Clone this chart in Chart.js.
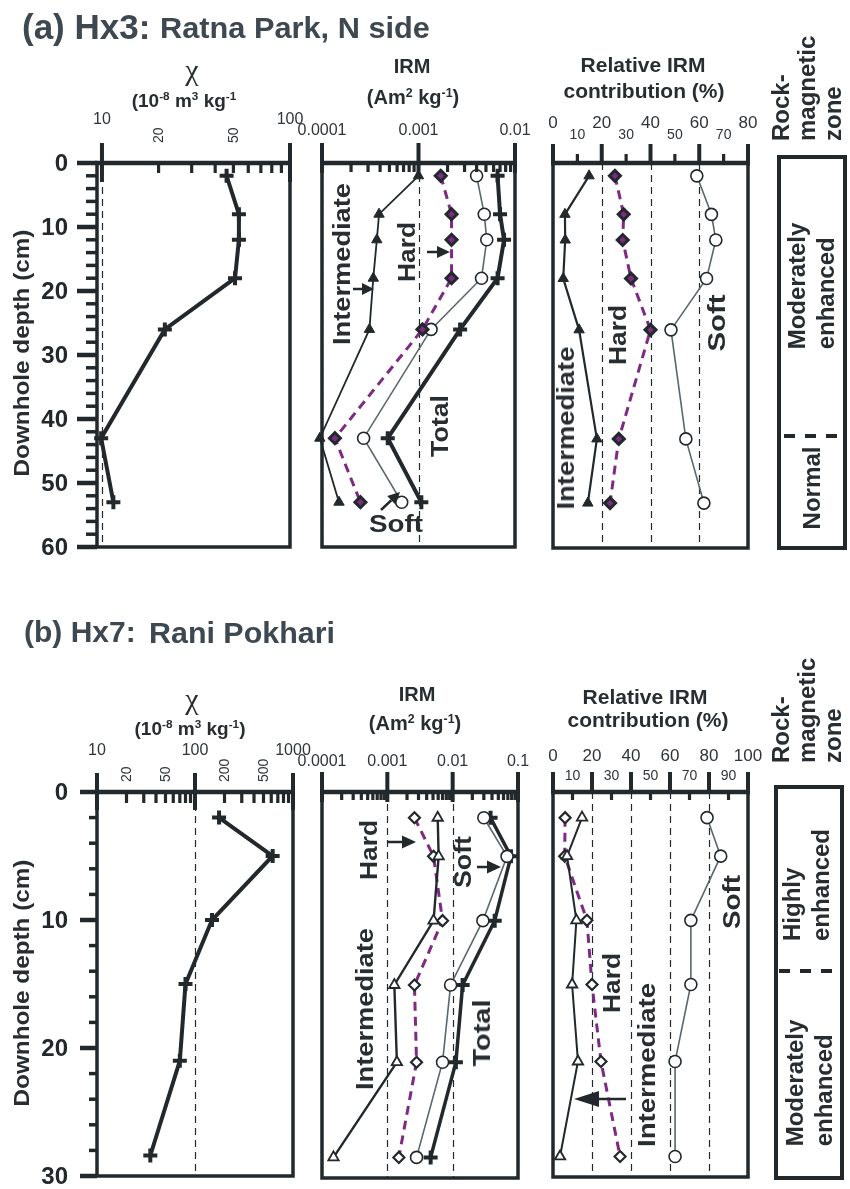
<!DOCTYPE html>
<html>
<head>
<meta charset="utf-8">
<script src="https://cdn.jsdelivr.net/npm/chart.js@4.4.1/dist/chart.umd.min.js"></script>
<style>
  body { margin: 0; background: #fff; }
  #page { position: relative; width: 850px; height: 1189px; overflow: hidden;
          font-family: "Liberation Sans", Arial, sans-serif; color: #272d31; }
  #page canvas { position: absolute; left: 0; top: 0; }
  .t { position: absolute; white-space: pre; font-weight: bold; line-height: 1; }
  .t sup { font-size: 0.62em; vertical-align: 0.55em; line-height: 0; }
  .zone { position: absolute; box-sizing: border-box; border: 4px solid #22282b; width: 70px; height: 395px; }
  svg { position: absolute; left: 0; top: 0; }
</style>
</head>
<body>
<div id="page"></div>
<script>
// ---- (a) Hx3: Ratna Park, N side ----
const depthA = [2, 8, 12, 18, 26, 43, 53];
const chiA = [46, 53.5, 53.5, 51, 21.6, 9.9, 11.5];
const irmTotalA = [0.0066, 0.0070, 0.0077, 0.0066, 0.0027, 0.00048, 0.00107];
const irmSoftA = [0.0040, 0.0048, 0.0051, 0.0045, 0.00135, 0.00027, 0.00067];
const irmHardA = [0.0017, 0.0022, 0.0022, 0.0022, 0.0011, 0.000136, 0.00025];
const irmInterA = [0.0010, 0.00039, 0.00037, 0.00034, 0.00031, 0.000095, 0.00015];
const relSoftA = [59, 65, 66.8, 63, 48.4, 54.5, 61.9];
const relHardA = [25.4, 29, 28.6, 32, 40, 27, 23.4];
const relInterA = [14.8, 4.9, 5, 4.2, 10.7, 18, 14.3];

// ---- (b) Hx7: Rani Pokhari ----
const depthB = [2, 5, 10, 15, 21, 28.4];
const chiB = [176, 620, 149, 80, 70, 35];
const irmTotalB = [0.038, 0.078, 0.044, 0.0142, 0.0112, 0.0046];
const irmSoftB = [0.030, 0.068, 0.029, 0.0093, 0.0070, 0.0028];
const irmHardB = [0.0026, 0.0051, 0.0070, 0.0026, 0.0028, 0.0015];
const irmInterB = [0.0059, 0.0061, 0.0051, 0.00128, 0.0014, 0.00015];
const relSoftB = [79, 86, 70.7, 70.7, 62.6, 62.6];
const relHardB = [6.2, 6, 17.4, 20, 24.6, 34.4];
const relInterB = [14.9, 7.2, 12, 9.8, 12.8, 3.6];

// ---- ticks ----
const depthTicksA = [0, 10, 20, 30, 40, 50, 60];
const depthTicksB = [0, 10, 20, 30];
const chiMajorA = [10, 100];
const chiMinorA = [20, 30, 40, 50, 60, 70, 80, 90];
const chiRotA = [20, 50];
const chiMajorB = [10, 100, 1000];
const chiMinorB = [20, 30, 40, 50, 60, 70, 80, 90, 200, 300, 400, 500, 600, 700, 800, 900];
const chiRotB = [20, 50, 200, 500];
const irmMajorA = [0.0001, 0.001, 0.01];
const irmLabelsA = ['0.0001', '0.001', '0.01'];
const irmMajorB = [0.0001, 0.001, 0.01, 0.1];
const irmLabelsB = ['0.0001', '0.001', '0.01', '0.1'];
const irmMinorMult = [2, 3, 4, 5, 6, 7, 8, 9];
const relMajorA = [0, 20, 40, 60, 80];
const relMinorA = [10, 30, 50, 70];
const relMajorB = [0, 20, 40, 60, 80, 100];
const relMinorB = [10, 30, 50, 70, 90];

const INK = '#22282b';
const PURPLE = '#7d2a82';
const GRAY = '#5b666d';
const TITLE = '#3e4850';
const FONT = '"Liberation Sans", Arial, sans-serif';
const W = 850, H = 1189;

const page = document.getElementById('page');
const measure = document.createElement('canvas').getContext('2d');

function txt(html, x, y, o = {}) {
  const d = document.createElement('div');
  d.className = 't';
  d.innerHTML = html;
  const size = o.size || 20;
  d.style.fontSize = size + 'px';
  if (o.weight) d.style.fontWeight = o.weight;
  if (o.color) d.style.color = o.color;
  if (o.family) d.style.fontFamily = o.family;
  if (o.lh) d.style.lineHeight = o.lh;
  d.style.left = x + 'px';
  d.style.top = y + 'px';
  let sx = '';
  if (o.len) {
    measure.font = (o.weight || 'bold') + ' ' + size + 'px ' + FONT;
    sx = ' scaleX(' + (o.len / measure.measureText(d.textContent).width).toFixed(3) + ')';
  }
  if (o.anchor === 'left') {
    d.style.transformOrigin = '0 50%';
    d.style.transform = 'translate(0,-50%)' + sx;
  } else if (o.anchor === 'rotBottom') {
    d.style.transformOrigin = '0 0';
    d.style.transform = 'rotate(-90deg)';
  } else {
    d.style.transform = 'translate(-50%,-50%)' + (o.rot ? ' rotate(-90deg)' : '') + sx;
  }
  page.appendChild(d);
  return d;
}

function pts(vals, depths) {
  return vals.map((v, i) => ({ x: v, y: depths[i] }));
}

function series(vals, depths, style) {
  return Object.assign({ data: pts(vals, depths), showLine: true, clip: false, tension: 0,
    pointHoverRadius: 0 }, style);
}

const sTotal = { borderColor: INK, borderWidth: 4, pointStyle: 'cross', pointRadius: 7,
  pointBorderWidth: 4, pointBorderColor: INK };
const sSoft = { borderColor: GRAY, borderWidth: 1.6, pointStyle: 'circle', pointRadius: 6,
  pointBorderWidth: 1.6, pointBorderColor: INK, pointBackgroundColor: '#fff' };
const sHardA = { borderColor: PURPLE, borderWidth: 3, borderDash: [9, 6], pointStyle: 'rectRot',
  pointRadius: 5.5, pointBorderWidth: 3, pointBorderColor: INK, pointBackgroundColor: PURPLE };
const sHardB = { borderColor: PURPLE, borderWidth: 3, borderDash: [9, 6], pointStyle: 'rectRot',
  pointRadius: 5.5, pointBorderWidth: 2.2, pointBorderColor: INK, pointBackgroundColor: '#fff' };
const sInterA = { borderColor: INK, borderWidth: 1.8, pointStyle: 'triangle', pointRadius: 6,
  pointBorderWidth: 1, pointBorderColor: INK, pointBackgroundColor: INK };
const sInterB = { borderColor: INK, borderWidth: 2.4, pointStyle: 'triangle', pointRadius: 6,
  pointBorderWidth: 1.8, pointBorderColor: INK, pointBackgroundColor: '#fff' };

function frame(f) {
  return {
    id: 'frame',
    beforeDatasetsDraw(chart) {
      const { ctx, chartArea: a } = chart;
      const x = chart.scales.x;
      ctx.save();
      ctx.strokeStyle = INK;
      ctx.lineWidth = 1.2;
      ctx.setLineDash([7, 5]);
      f.dashed.forEach(v => {
        const px = Math.round(x.getPixelForValue(v)) + 0.5;
        ctx.beginPath(); ctx.moveTo(px, a.top); ctx.lineTo(px, a.bottom); ctx.stroke();
      });
      ctx.restore();
    },
    afterDatasetsDraw(chart) {
      const { ctx, chartArea: a } = chart;
      const x = chart.scales.x, y = chart.scales.y;
      ctx.save();
      ctx.strokeStyle = INK;
      ctx.fillStyle = INK;
      ctx.lineWidth = 3.5;
      ctx.strokeRect(a.left, a.top, a.right - a.left, a.bottom - a.top);
      ctx.lineWidth = 4.5;
      ctx.beginPath(); ctx.moveTo(a.left - 2, a.top); ctx.lineTo(a.right + 2, a.top); ctx.stroke();

      const tick = (v, up, down, w) => {
        const px = x.getPixelForValue(v);
        ctx.lineWidth = w;
        ctx.beginPath(); ctx.moveTo(px, a.top - up); ctx.lineTo(px, a.top + down); ctx.stroke();
      };
      f.major.forEach(v => tick(v, f.majUp, f.majDown, 4));
      f.minor.forEach(v => tick(v, f.minUp, f.minDown, 3.2));

      ctx.fillStyle = '#2f3539';
      ctx.textAlign = 'center';
      ctx.textBaseline = 'middle';
      f.labels.forEach(l => {
        ctx.font = l.size + 'px ' + FONT;
        ctx.fillText(l.text, x.getPixelForValue(l.v), l.y);
      });
      (f.rot || []).forEach(l => {
        ctx.save();
        ctx.translate(x.getPixelForValue(l.v), l.y);
        ctx.rotate(-Math.PI / 2);
        ctx.textAlign = 'left';
        ctx.font = '14px ' + FONT;
        ctx.fillText(l.text, 0, 1);
        ctx.restore();
      });

      if (f.depth) {
        const d = f.depth;
        ctx.strokeStyle = INK;
        for (let v = 0; v <= y.max; v += 2) {
          const py = y.getPixelForValue(v);
          const major = d.ticks.includes(v);
          ctx.lineWidth = major ? 4.5 : 3.5;
          ctx.beginPath(); ctx.moveTo(a.left - (major ? d.maj : d.min), py); ctx.lineTo(a.left, py); ctx.stroke();
        }
        ctx.fillStyle = INK;
        ctx.font = 'bold 24px ' + FONT;
        ctx.textAlign = 'right';
        d.ticks.forEach(v => ctx.fillText(String(v), a.left - d.gap, y.getPixelForValue(v) + 1));
      }
      ctx.restore();
    }
  };
}

function makeChart(box, xScale, yMax, datasets, f) {
  const c = document.createElement('canvas');
  c.width = W; c.height = H;
  page.appendChild(c);
  return new Chart(c, {
    type: 'scatter',
    data: { datasets },
    options: {
      responsive: false,
      animation: false,
      events: [],
      layout: { padding: { left: box.l, top: box.t, right: W - box.r, bottom: H - box.b } },
      plugins: { legend: { display: false }, tooltip: { enabled: false } },
      scales: {
        x: Object.assign({ display: false }, xScale),
        y: { type: 'linear', display: false, min: 0, max: yMax, reverse: true }
      }
    },
    plugins: [frame(f)]
  });
}

const decadeMinor = (majors) => majors.slice(0, -1).flatMap(m => irmMinorMult.map(k => k * m));

// ---------- panel (a) ----------
makeChart({ l: 97, t: 163, r: 290, b: 547 }, { type: 'logarithmic', min: 9.41, max: 100 }, 60,
  [series(chiA, depthA, sTotal)],
  { dashed: [10], major: chiMajorA, minor: chiMinorA, majUp: 20, majDown: 19, minUp: 0, minDown: 10,
    labels: chiMajorA.map(v => ({ v, text: String(v), y: 120, size: 16 })),
    rot: chiRotA.map(v => ({ v, text: String(v), y: 143 })),
    depth: { ticks: depthTicksA, maj: 20, min: 11, gap: 29 } });

makeChart({ l: 322, t: 163, r: 515, b: 547 }, { type: 'logarithmic', min: 0.0001, max: 0.01 }, 60,
  [series(irmInterA, depthA, sInterA), series(irmHardA, depthA, sHardA),
   series(irmSoftA, depthA, sSoft), series(irmTotalA, depthA, sTotal)],
  { dashed: [0.0001, 0.001], major: irmMajorA, minor: decadeMinor(irmMajorA),
    majUp: 20, majDown: 10, minUp: 0, minDown: 9,
    labels: irmMajorA.map((v, i) => ({ v, text: irmLabelsA[i], y: 131, size: 16 })) });

makeChart({ l: 553, t: 163, r: 748, b: 548 }, { type: 'linear', min: 0, max: 80 }, 60,
  [series(relInterA, depthA, Object.assign({}, sInterA, { borderWidth: 2.2 })),
   series(relHardA, depthA, sHardA), series(relSoftA, depthA, sSoft)],
  { dashed: [20, 40, 60], major: relMajorA, minor: relMinorA, majUp: 19, majDown: 0, minUp: 9, minDown: 0,
    labels: relMajorA.map(v => ({ v, text: String(v), y: 123, size: 17 }))
      .concat(relMinorA.map(v => ({ v, text: String(v), y: 135, size: 14 }))) });

// ---------- panel (b) ----------
makeChart({ l: 97, t: 792, r: 293, b: 1176 }, { type: 'logarithmic', min: 10, max: 1000 }, 30,
  [series(chiB, depthB, sTotal)],
  { dashed: [100], major: chiMajorB, minor: chiMinorB, majUp: 19, majDown: 18, minUp: 0, minDown: 11,
    labels: chiMajorB.map(v => ({ v, text: String(v), y: 751, size: 16 })),
    rot: chiRotB.map(v => ({ v, text: String(v), y: 782 })),
    depth: { ticks: depthTicksB, maj: 17, min: 8, gap: 29 } });

makeChart({ l: 322, t: 792, r: 518, b: 1178 }, { type: 'logarithmic', min: 0.0001, max: 0.1 }, 30,
  [series(irmInterB, depthB, sInterB), series(irmHardB, depthB, sHardB),
   series(irmSoftB, depthB, sSoft), series(irmTotalB, depthB, Object.assign({}, sTotal, { borderWidth: 3.5 }))],
  { dashed: [0.001, 0.01], major: irmMajorB, minor: decadeMinor(irmMajorB),
    majUp: 20, majDown: 10, minUp: 0, minDown: 8,
    labels: irmMajorB.map((v, i) => ({ v, text: irmLabelsB[i], y: 762, size: 16 })) });

makeChart({ l: 553, t: 792, r: 748, b: 1177 }, { type: 'linear', min: 0, max: 100 }, 30,
  [series(relInterB, depthB, Object.assign({}, sInterB, { borderWidth: 2 })),
   series(relHardB, depthB, sHardB), series(relSoftB, depthB, sSoft)],
  { dashed: [20, 40, 60, 80], major: relMajorB, minor: relMinorB, majUp: 20, majDown: 0, minUp: 0, minDown: 8,
    labels: relMajorB.map(v => ({ v, text: String(v), y: 756, size: 17 }))
      .concat(relMinorB.map(v => ({ v, text: String(v), y: 776, size: 14 }))) });

// ---------- text ----------
txt('(a) Hx3:', 22, 26, { size: 35, anchor: 'left', color: TITLE });
txt('Ratna Park, N side', 160, 28, { size: 29, anchor: 'left', len: 270, color: TITLE });
txt('(b) Hx7:', 24, 632, { size: 30, anchor: 'left', color: TITLE });
txt('Rani Pokhari', 149, 633, { size: 29, anchor: 'left', len: 186, color: TITLE });

txt('χ', 192, 70, { size: 30, weight: 'normal', family: '"Liberation Serif", serif' });
txt('(10<sup>-8</sup> m<sup>3</sup> kg<sup>-1</sup>', 184, 100, { size: 19 });
txt('IRM', 412, 66, { size: 20 });
txt('(Am<sup>2</sup> kg<sup>-1</sup>)', 413, 97, { size: 20 });
txt('Relative IRM', 643, 64, { size: 21 });
txt('contribution (%)', 644, 90, { size: 21 });

txt('χ', 192, 699, { size: 30, weight: 'normal', family: '"Liberation Serif", serif' });
txt('(10<sup>-8</sup> m<sup>3</sup> kg<sup>-1</sup>)', 190, 728, { size: 19 });
txt('IRM', 417, 694, { size: 20 });
txt('(Am<sup>2</sup> kg<sup>-1</sup>)', 415, 723, { size: 20 });
txt('Relative IRM', 645, 696, { size: 21 });
txt('contribution (%)', 648, 719, { size: 21 });

txt('Downhole depth (cm)', 22, 353, { size: 22, rot: true, len: 247 });
txt('Downhole depth (cm)', 22, 983, { size: 22, rot: true, len: 247 });

txt('Rock-\nmagnetic\nzone', 768, 141, { size: 24, anchor: 'rotBottom', lh: '26px' });
txt('Rock-\nmagnetic\nzone', 768, 763, { size: 24, anchor: 'rotBottom', lh: '26px' });

// annotations (a)
txt('Intermediate', 342, 264, { size: 24, rot: true, len: 162 });
txt('Hard', 407, 252, { size: 24, rot: true, len: 60 });
txt('Total', 440, 426, { size: 24, rot: true, len: 62 });
txt('Soft', 396, 524, { size: 24, len: 54 });
txt('Intermediate', 566, 428, { size: 24, rot: true, len: 163 });
txt('Hard', 618, 335, { size: 24, rot: true, len: 60 });
txt('Soft', 717, 323, { size: 24, rot: true, len: 57 });
// annotations (b)
txt('Hard', 369, 850, { size: 24, rot: true, len: 60 });
txt('Soft', 463, 862, { size: 24, rot: true, len: 52 });
txt('Intermediate', 365, 1009, { size: 24, rot: true, len: 162 });
txt('Total', 482, 1033, { size: 24, rot: true, len: 67 });
txt('Soft', 732, 902, { size: 24, rot: true, len: 54 });
txt('Hard', 612, 983, { size: 24, rot: true, len: 60 });
txt('Intermediate', 647, 1065, { size: 24, rot: true, len: 164 });

// zone boxes
function zone(l, t) {
  const d = document.createElement('div');
  d.className = 'zone';
  d.style.left = l + 'px';
  d.style.top = t + 'px';
  page.appendChild(d);
}
zone(777, 155);
zone(774, 785);
txt('Moderately\nenhanced', 811, 286, { size: 24, rot: true, lh: '29px' });
txt('Normal', 812, 488, { size: 24, rot: true, len: 83 });
txt('Highly\nenhanced', 806, 885, { size: 24, rot: true, lh: '29px' });
txt('Moderately\nenhanced', 809, 1083, { size: 24, rot: true, lh: '29px' });

// arrows and zone separators
const NS = 'http://www.w3.org/2000/svg';
const svg = document.createElementNS(NS, 'svg');
svg.setAttribute('width', W); svg.setAttribute('height', H);
page.appendChild(svg);
function el(name, attrs) {
  const e = document.createElementNS(NS, name);
  for (const k in attrs) e.setAttribute(k, attrs[k]);
  svg.appendChild(e);
}
function arrow(x1, y1, x2, y2, hl, hw) {
  const dx = x2 - x1, dy = y2 - y1, L = Math.hypot(dx, dy), ux = dx / L, uy = dy / L;
  const bx = x2 - ux * hl, by = y2 - uy * hl;
  el('line', { x1, y1, x2: bx, y2: by, stroke: INK, 'stroke-width': 2.5 });
  el('polygon', { points: `${x2},${y2} ${bx - uy * hw},${by + ux * hw} ${bx + uy * hw},${by - ux * hw}`, fill: INK });
}
arrow(353, 289, 374, 289, 12, 6);
arrow(427, 252, 450, 252, 13, 6);
arrow(381, 510, 400, 492, 12, 6);
arrow(388, 842, 416, 842, 14, 6.5);
arrow(477, 867, 501, 867, 14, 6.5);
arrow(626, 1099, 574, 1099, 25, 8);
el('line', { x1: 784, y1: 436, x2: 842, y2: 436, stroke: INK, 'stroke-width': 4, 'stroke-dasharray': '11 10' });
el('line', { x1: 779, y1: 971, x2: 840, y2: 971, stroke: INK, 'stroke-width': 4, 'stroke-dasharray': '11 10' });
</script>
</body>
</html>
